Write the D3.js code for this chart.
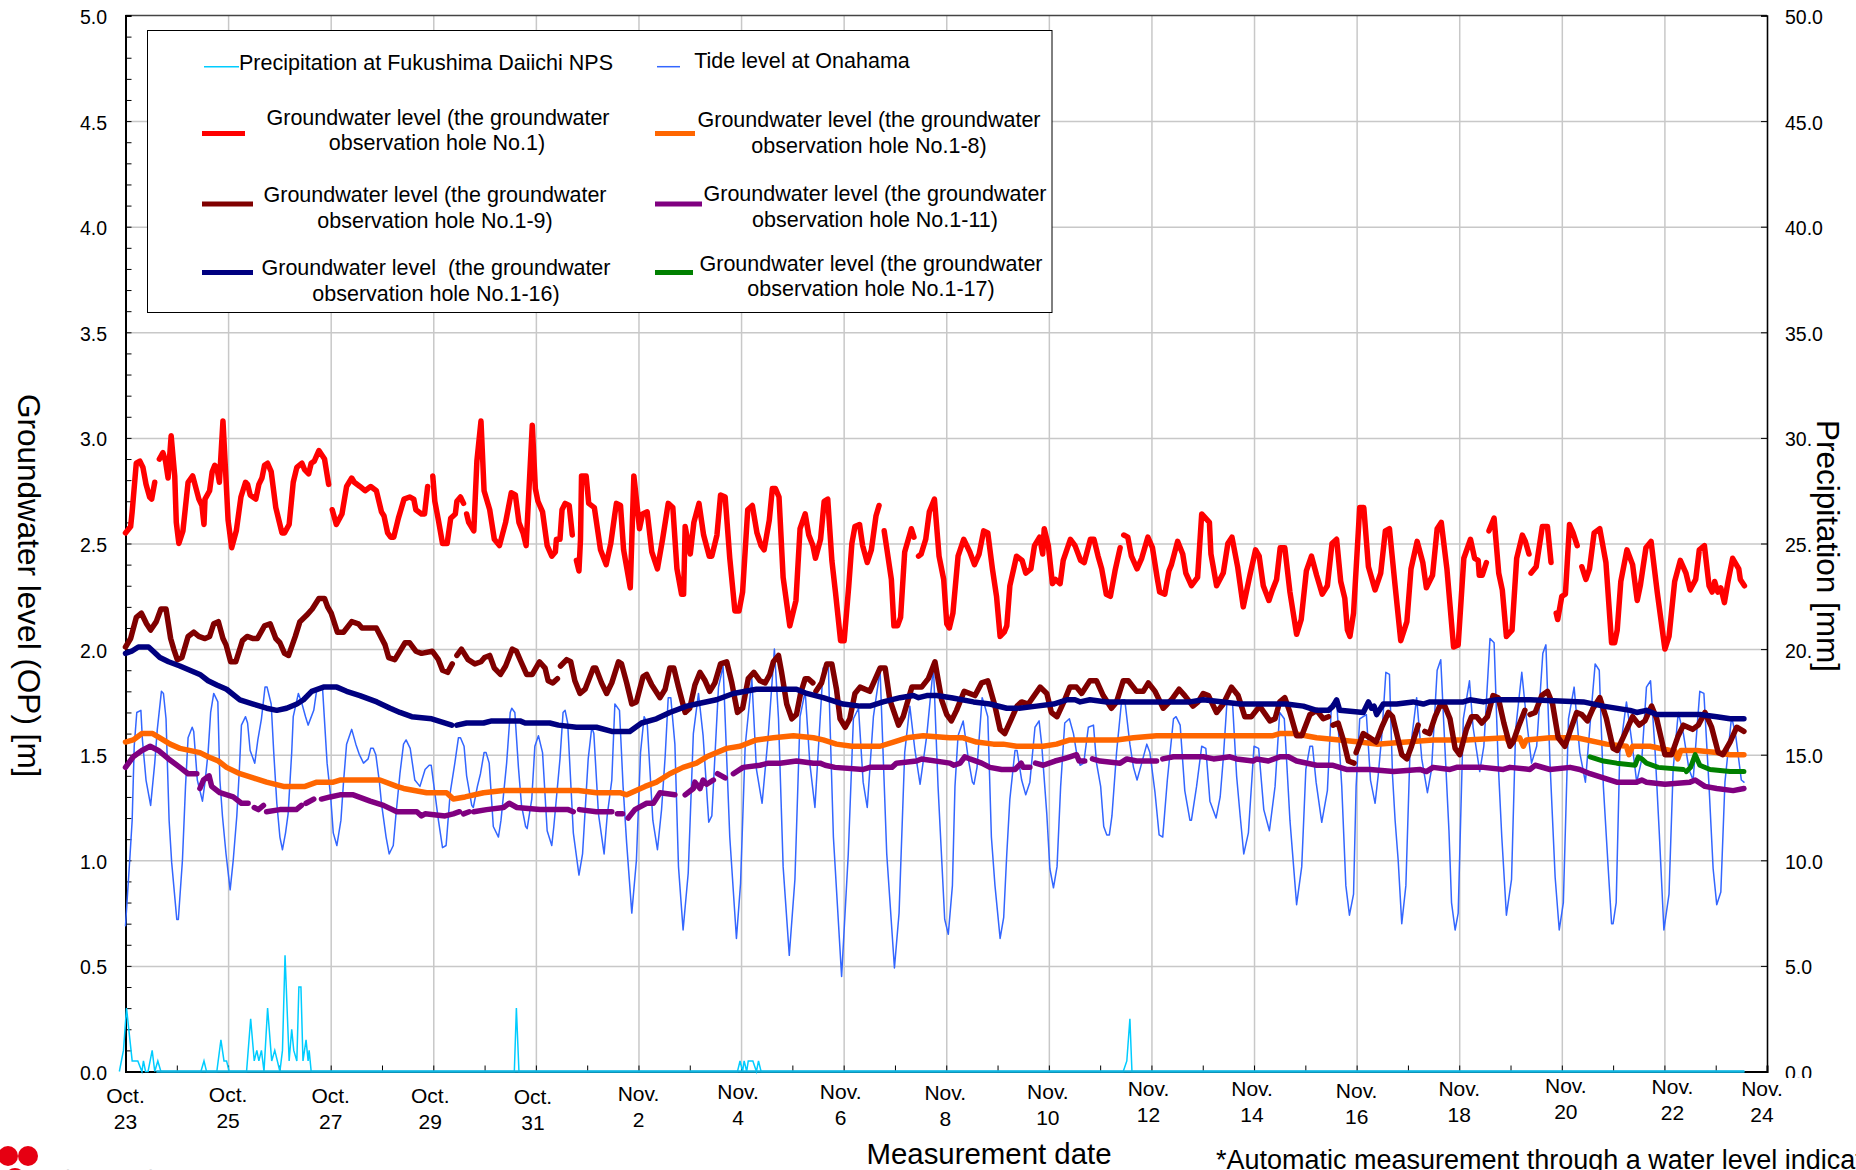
<!DOCTYPE html>
<html lang="en">
<head>
  <meta charset="UTF-8">
  <title>Groundwater level</title>
  <script src="https://d3js.org/d3.v7.min.js"></script>
  <style>
    html, body { margin: 0; padding: 0; background: #fff; overflow: hidden; }
    text { font-family: "Liberation Sans", Arial, sans-serif; fill: #000; }
  </style>
</head>
<body>
<script>
// every series is a list of [days since Oct. 23, level]; null = break in the record
const tide = [[0,.69],[.09,1.03],[.13,1.19],[.17,1.54],[.22,1.70],[.30,1.71],[.33,1.57],[.40,1.38],[.49,1.26],[.57,1.46],[.62,1.62],[.70,1.80],[.74,1.79],[.79,1.67],[.85,1.19],[.90,.99],[1,.72],[1.03,.72],[1.11,1],[1.17,1.35],[1.22,1.58],[1.30,1.63],[1.33,1.61],[1.40,1.38],[1.50,1.28],[1.55,1.37],[1.61,1.51],[1.66,1.70],[1.72,1.79],[1.80,1.75],[1.84,1.38],[1.89,1.21],[1.96,1.03],[2.04,.86],[2.10,1],[2.17,1.21],[2.22,1.43],[2.26,1.64],[2.34,1.68],[2.38,1.65],[2.43,1.52],[2.52,1.46],[2.58,1.57],[2.65,1.67],[2.72,1.82],[2.76,1.82],[2.84,1.74],[2.89,1.51],[2.95,1.27],[3.01,1.11],[3.06,1.05],[3.12,1.13],[3.17,1.22],[3.24,1.51],[3.27,1.68],[3.37,1.79],[3.43,1.75],[3.51,1.68],[3.56,1.64],[3.67,1.71],[3.73,1.81],[3.84,1.82],[3.93,1.46],[4,1.30],[4.05,1.13],[4.12,1.07],[4.20,1.19],[4.25,1.37],[4.31,1.55],[4.41,1.62],[4.49,1.55],[4.56,1.50],[4.64,1.46],[4.73,1.48],[4.78,1.53],[4.83,1.53],[4.88,1.50],[4.95,1.37],[4.99,1.27],[5.08,1.11],[5.14,1.03],[5.22,1.07],[5.27,1.21],[5.35,1.41],[5.42,1.55],[5.47,1.57],[5.55,1.53],[5.64,1.38],[5.74,1.35],[5.84,1.43],[5.92,1.45],[5.96,1.45],[6.03,1.32],[6.10,1.19],[6.18,1.06],[6.25,1.07],[6.33,1.32],[6.42,1.46],[6.49,1.58],[6.53,1.58],[6.60,1.54],[6.65,1.40],[6.75,1.26],[6.78,1.25],[6.86,1.35],[6.92,1.41],[6.99,1.51],[7.03,1.51],[7.09,1.46],[7.17,1.16],[7.27,1.11],[7.32,1.19],[7.43,1.46],[7.50,1.70],[7.53,1.72],[7.59,1.70],[7.66,1.44],[7.72,1.26],[7.80,1.16],[7.83,1.15],[7.92,1.29],[7.98,1.54],[8.05,1.59],
  [8.13,1.51],[8.22,1.14],[8.31,1.07],[8.35,1.16],[8.47,1.48],[8.53,1.70],[8.57,1.71],[8.62,1.65],[8.73,1.13],[8.84,.93],[8.91,1.03],[9.02,1.48],[9.09,1.63],[9.13,1.60],[9.22,1.22],[9.33,1.03],[9.39,1.21],[9.48,1.38],[9.54,1.74],[9.63,1.71],[9.70,1.35],[9.77,1.08],[9.87,.75],[9.96,1],[10.04,1.51],[10.11,1.68],[10.17,1.65],[10.28,1.19],[10.37,1.05],[10.45,1.24],[10.52,1.49],[10.58,1.77],[10.63,1.77],[10.71,1.55],[10.78,.97],[10.87,.67],[10.97,.94],[11.07,1.60],[11.17,1.79],[11.26,1.59],[11.37,1.18],[11.43,1.21],[11.56,1.82],[11.65,1.92],[11.78,1.11],[11.91,.63],[11.99,.89],[12.08,1.54],[12.21,1.86],[12.30,1.43],[12.41,1.27],[12.53,1.59],[12.65,2],[12.73,1.67],[12.82,.97],[12.94,.55],[13.05,.91],[13.15,1.68],[13.25,1.80],[13.34,1.46],[13.44,1.25],[13.60,1.91],[13.70,1.93],[13.80,1.11],[13.96,.45],[14.09,1.03],[14.19,1.67],[14.29,1.72],[14.38,1.37],[14.46,1.25],[14.58,1.68],[14.71,1.90],[14.84,1.03],[14.99,.49],[15.08,.75],[15.19,1.51],[15.29,1.73],[15.39,1.52],[15.49,1.36],[15.62,1.59],[15.75,1.92],[15.84,1.35],[15.97,.72],[16.04,.65],
  [16.12,.88],[16.17,1.35],[16.23,1.59],[16.33,1.66],[16.43,1.48],[16.51,1.37],[16.54,1.36],[16.60,1.44],[16.70,1.77],[16.74,1.74],[16.81,1.68],[16.88,1.11],[16.95,.88],[17.05,.63],[17.12,.73],[17.18,1.03],[17.24,1.29],[17.34,1.52],[17.38,1.52],[17.47,1.38],[17.55,1.31],[17.63,1.37],[17.73,1.63],[17.81,1.66],[17.86,1.55],[17.96,1.22],[18.02,.96],[18.09,.87],[18.16,.97],[18.23,1.35],[18.31,1.65],[18.40,1.67],[18.48,1.60],[18.54,1.51],[18.61,1.45],[18.68,1.46],[18.77,1.63],[18.87,1.64],[18.93,1.46],[19.01,1.35],[19.07,1.16],[19.13,1.12],[19.18,1.12],[19.23,1.21],[19.32,1.51],[19.42,1.76],[19.48,1.76],[19.58,1.55],[19.65,1.44],[19.72,1.38],[19.81,1.46],[19.91,1.55],[19.97,1.51],[20.07,1.32],[20.15,1.12],[20.22,1.11],[20.31,1.38],[20.43,1.67],[20.48,1.68],[20.56,1.64],[20.65,1.33],[20.75,1.19],[20.78,1.19],[20.88,1.35],[20.98,1.54],[21.06,1.53],[21.14,1.28],[21.26,1.20],[21.34,1.30],[21.40,1.48],[21.47,1.74],[21.58,1.75],[21.66,1.40],[21.73,1.21],[21.80,1.03],[21.89,1.13],[22,1.54],[22.09,1.53],[22.19,1.24],[22.30,1.14],[22.41,1.35],[22.50,1.70],[22.59,1.67],[22.70,1.19],[22.83,.79],[22.93,.97],[23.01,1.43],[23.09,1.54],[23.14,1.54],[23.21,1.37],[23.32,1.18],[23.43,1.33],[23.51,1.74],[23.61,1.76],[23.71,1.35],[23.79,.88],[23.86,.74],
  [23.94,.84],[23.99,1.35],[24.06,1.67],[24.19,1.69],[24.27,1.38],[24.36,1.27],[24.42,1.40],[24.49,1.59],[24.57,1.89],[24.64,1.88],[24.70,1.40],[24.75,1.19],[24.81,1],[24.88,.70],[24.96,.88],[25.04,1.51],[25.17,1.77],[25.27,1.48],[25.38,1.32],[25.46,1.43],[25.57,1.90],[25.64,1.95],[25.72,1.54],[25.80,1.14],[25.85,.80],[25.92,.67],[25.98,.75],[26.08,1.67],[26.20,1.85],[26.27,1.63],[26.40,1.42],[26.48,1.54],[26.60,2.05],[26.68,2.03],[26.76,1.46],[26.83,1.11],[26.92,.74],[27.02,.91],[27.10,1.62],[27.22,1.89],[27.31,1.67],[27.41,1.46],[27.51,1.54],[27.63,1.98],[27.69,2.02],[27.77,1.46],[27.87,.92],[27.95,.67],[28.03,.80],[28.13,1.67],[28.24,1.82],[28.35,1.51],[28.46,1.37],[28.56,1.67],[28.65,1.93],[28.73,1.90],[28.81,1.35],[28.91,.94],[28.97,.70],[29,.70],[29.06,.80],[29.13,1.51],[29.26,1.75],[29.36,1.57],[29.46,1.37],[29.56,1.48],[29.65,1.82],[29.73,1.85],[29.82,1.51],[29.90,1.13],[29.99,.67],[30.09,.84],[30.17,1.43],[30.27,1.70],[30.37,1.60],[30.48,1.43],[30.56,1.38],[30.69,1.80],[30.77,1.79],[30.87,1.35],[30.95,.96],[31.02,.79],[31.10,.85],[31.18,1.37],[31.31,1.68],[31.39,1.59],[31.50,1.38],[31.55,1.37]];

const hole1 = [[0,2.55],[.10,2.58],[.13,2.65],[.21,2.88],[.28,2.89],[.34,2.86],[.40,2.78],[.47,2.72],[.51,2.71],[.57,2.79],null,
  [.66,2.90],[.73,2.93],[.78,2.89],[.83,2.81],[.89,3.01],[.96,2.82],[.99,2.60],[1.04,2.50],[1.12,2.56],[1.22,2.79],[1.31,2.82],[1.43,2.71],[1.49,2.68],[1.53,2.59],[1.55,2.71],[1.64,2.75],[1.69,2.84],[1.74,2.87],[1.78,2.86],[1.83,2.79],[1.90,3.08],[1.96,2.80],[2,2.61],[2.07,2.48],[2.16,2.56],[2.25,2.72],[2.34,2.79],[2.38,2.78],[2.43,2.73],[2.54,2.71],[2.60,2.78],[2.66,2.81],[2.71,2.87],[2.77,2.88],[2.84,2.84],[2.93,2.67],[2.99,2.61],[3.05,2.55],[3.10,2.55],[3.19,2.59],[3.27,2.79],[3.34,2.86],[3.44,2.88],[3.49,2.85],[3.57,2.83],[3.62,2.88],[3.68,2.89],[3.77,2.94],[3.88,2.90],[3.96,2.78],null,
  [4.03,2.66],[4.11,2.59],[4.22,2.64],[4.31,2.77],[4.41,2.81],[4.46,2.79],[4.57,2.77],[4.67,2.75],[4.78,2.77],[4.89,2.75],[4.99,2.65],[5.04,2.63],[5.11,2.55],[5.17,2.53],[5.23,2.53],[5.32,2.62],[5.43,2.71],[5.54,2.72],[5.62,2.71],[5.66,2.66],[5.77,2.64],[5.83,2.64],[5.89,2.77],null,
  [5.99,2.82],[6.03,2.70],[6.10,2.61],[6.18,2.50],[6.27,2.50],[6.34,2.62],[6.43,2.64],[6.46,2.70],[6.53,2.72],[6.59,2.69],null,
  [6.65,2.64],[6.69,2.60],[6.79,2.56],[6.85,2.89],[6.93,3.08],[6.99,2.75],[7.10,2.66],[7.19,2.52],[7.29,2.49],[7.41,2.60],[7.52,2.74],[7.60,2.73],[7.67,2.60],[7.75,2.55],[7.81,2.49],[7.93,3.06],[7.99,2.76],[8.04,2.70],[8.13,2.65],[8.22,2.49],[8.31,2.44],[8.38,2.46],[8.40,2.52],[8.47,2.52],[8.51,2.66],[8.57,2.69],[8.65,2.68],[8.71,2.54],null,
  [8.79,2.42],[8.84,2.37],[8.87,2.52],[8.89,2.82],[8.98,2.82],[9.03,2.69],[9.14,2.67],[9.20,2.57],[9.26,2.47],[9.37,2.40],[9.46,2.50],[9.54,2.64],[9.57,2.69],[9.65,2.68],[9.71,2.47],[9.84,2.29],[9.91,2.82],[9.99,2.64],[10.02,2.57],[10.08,2.64],[10.17,2.65],[10.26,2.46],[10.37,2.38],[10.47,2.52],[10.58,2.69],[10.67,2.67],[10.75,2.38],[10.84,2.26],[10.88,2.26],[10.91,2.58],[11.01,2.45],[11.08,2.60],[11.18,2.69],
  [11.27,2.54],[11.38,2.44],[11.43,2.44],[11.53,2.54],[11.60,2.73],[11.69,2.72],[11.78,2.43],[11.88,2.18],[11.96,2.18],[12.03,2.27],[12.13,2.66],[12.22,2.68],[12.31,2.55],[12.39,2.49],[12.45,2.47],[12.55,2.61],[12.61,2.76],[12.67,2.76],[12.74,2.72],[12.82,2.34],[12.95,2.11],[13.07,2.23],[13.15,2.57],[13.25,2.64],[13.32,2.54],[13.40,2.49],[13.45,2.43],[13.55,2.52],[13.62,2.70],[13.69,2.71],[13.77,2.42],[13.84,2.27],[13.94,2.04],[14.01,2.04],[14.10,2.30],[14.16,2.50],[14.22,2.58],[14.31,2.59],[14.37,2.49],[14.46,2.41],[14.54,2.47],[14.63,2.63],[14.69,2.68],null,
  [14.79,2.56],[14.93,2.33],[14.98,2.11],[15.05,2.11],[15.11,2.15],[15.19,2.46],[15.32,2.57],[15.37,2.53],null,
  [15.46,2.44],[15.51,2.45],[15.60,2.52],[15.67,2.65],[15.77,2.71],[15.86,2.44],[15.95,2.33],[16.01,2.12],[16.06,2.10],[16.13,2.17],[16.23,2.44],[16.34,2.52],[16.46,2.46],[16.55,2.40],[16.64,2.45],[16.73,2.56],[16.81,2.55],[16.90,2.38],[16.98,2.25],[17.05,2.06],[17.13,2.08],[17.18,2.11],[17.24,2.30],[17.37,2.44],[17.48,2.42],[17.55,2.36],[17.65,2.38],[17.72,2.49],[17.82,2.53],[17.88,2.45],[17.91,2.57],[17.99,2.49],[18.07,2.31],[18.13,2.33],[18.22,2.31],[18.28,2.42],[18.42,2.52],[18.51,2.49],[18.62,2.42],[18.69,2.41],[18.81,2.52],[18.88,2.52],[18.96,2.44],[19.03,2.38],[19.12,2.26],[19.20,2.25],[19.29,2.37],[19.39,2.48],null,
  [19.46,2.54],[19.54,2.53],[19.61,2.44],[19.72,2.38],[19.81,2.43],[19.93,2.53],[20.02,2.48],[20.11,2.34],[20.16,2.27],[20.26,2.26],[20.34,2.37],[20.39,2.40],[20.51,2.51],[20.61,2.45],[20.67,2.36],[20.78,2.30],[20.90,2.34],[20.98,2.64],[21.13,2.60],[21.16,2.45],[21.27,2.30],[21.40,2.36],[21.49,2.50],[21.57,2.53],[21.68,2.39],[21.79,2.20],
  [21.92,2.35],[22.03,2.47],[22.10,2.44],[22.18,2.30],[22.29,2.23],[22.36,2.28],[22.44,2.33],[22.51,2.48],[22.60,2.48],[22.70,2.27],[22.83,2.07],[22.92,2.14],[23.02,2.37],[23.12,2.44],[23.22,2.35],[23.33,2.26],[23.43,2.30],[23.52,2.50],[23.61,2.52],[23.69,2.32],[23.77,2.24],[23.82,2.09],[23.87,2.06],[23.94,2.17],[24.06,2.67],[24.14,2.67],[24.23,2.39],[24.36,2.28],[24.47,2.36],[24.56,2.56],[24.64,2.57],[24.75,2.30],[24.86,2.04],[24.98,2.13],[25.06,2.38],[25.18,2.51],[25.29,2.41],[25.36,2.29],[25.48,2.35],[25.57,2.57],[25.65,2.60],[25.76,2.38],[25.89,2.01],[25.98,2.02],[26.09,2.43],[26.22,2.52],[26.30,2.43],[26.37,2.42],[26.39,2.35],[26.45,2.35],[26.53,2.41],null,
  [26.58,2.56],[26.68,2.62],[26.77,2.36],[26.84,2.28],[26.92,2.06],[27.03,2.09],[27.12,2.43],[27.23,2.54],[27.29,2.51],[27.36,2.45],null,
  [27.40,2.36],[27.50,2.39],[27.62,2.58],[27.72,2.58],[27.79,2.41],null,
  [27.89,2.17],[27.92,2.14],[28,2.25],[28.07,2.26],[28.15,2.59],[28.22,2.55],[28.30,2.49],null,
  [28.39,2.39],[28.47,2.33],[28.54,2.38],[28.63,2.55],[28.74,2.57],[28.86,2.41],[28.97,2.03],[29.03,2.03],[29.08,2.09],[29.15,2.32],[29.27,2.47],[29.38,2.40],[29.47,2.23],[29.53,2.30],[29.64,2.48],[29.74,2.51],[29.86,2.27],[30.01,2],[30.09,2.06],[30.20,2.32],[30.31,2.42],[30.42,2.36],[30.50,2.28],[30.61,2.33],[30.68,2.47],[30.78,2.49],[30.87,2.30],[30.93,2.27],[30.98,2.32],[31.04,2.27],[31.10,2.29],[31.17,2.22],[31.24,2.32],[31.33,2.43],[31.45,2.38],[31.48,2.33],[31.56,2.30]];

const hole1_9 = [[0,2.01],[.10,2.05],[.21,2.15],[.31,2.17],[.41,2.12],[.49,2.09],[.60,2.13],[.69,2.19],[.79,2.19],[.88,2.05],[.94,2],[1.01,1.95],[1.10,1.96],[1.22,2.06],[1.33,2.08],[1.43,2.06],[1.55,2.05],[1.64,2.06],[1.72,2.12],[1.81,2.13],[1.90,2.05],[1.96,2.02],[2.05,1.94],[2.15,1.94],[2.28,2.04],[2.37,2.06],[2.49,2.05],[2.57,2.05],[2.71,2.11],[2.82,2.12],[2.93,2.05],[3.01,2.03],[3.10,1.98],[3.18,1.97],[3.31,2.06],[3.40,2.13],[3.53,2.16],[3.64,2.19],[3.77,2.24],[3.88,2.24],[3.94,2.20],[4.01,2.17],[4.13,2.08],[4.25,2.08],[4.41,2.13],[4.54,2.12],[4.61,2.10],[4.89,2.10],[5.06,2.02],[5.13,1.96],[5.25,1.95],[5.45,2.03],[5.54,2.03],[5.66,1.99],[5.77,1.98],[5.98,1.99],[6.10,1.95],[6.18,1.90],[6.28,1.89],[6.37,1.93],null,
  [6.46,1.97],[6.55,2],[6.68,1.95],[6.81,1.93],[6.93,1.94],[7,1.96],[7.10,1.97],[7.19,1.91],[7.31,1.88],[7.41,1.92],[7.54,2],[7.62,1.99],[7.71,1.94],[7.82,1.88],[7.93,1.88],[8.07,1.94],[8.18,1.91],[8.24,1.85],[8.33,1.84],[8.42,1.86],null,
  [8.48,1.92],[8.60,1.95],[8.68,1.94],[8.76,1.85],[8.86,1.79],[8.96,1.81],[9.12,1.91],[9.17,1.91],[9.28,1.84],[9.38,1.79],[9.48,1.84],[9.61,1.94],[9.67,1.93],[9.77,1.84],[9.87,1.74],[9.96,1.75],[10.09,1.87],[10.16,1.88],[10.26,1.83],[10.42,1.77],[10.52,1.81],[10.61,1.91],[10.69,1.91],[10.78,1.82],[10.91,1.70],[11,1.72],[11.10,1.83],[11.20,1.89],[11.30,1.85],[11.39,1.80],[11.49,1.84],[11.60,1.93],[11.72,1.94],[11.82,1.84],[11.93,1.70],[12.03,1.72],[12.14,1.86],[12.25,1.89],[12.37,1.85],[12.47,1.84],[12.56,1.88],[12.63,1.94],[12.73,1.97],[12.79,1.89],[12.89,1.74],[12.99,1.67],[13.08,1.69],[13.16,1.79],[13.25,1.86],[13.31,1.86],[13.40,1.84],null,
  [13.46,1.80],[13.57,1.84],[13.67,1.93],[13.77,1.93],[13.86,1.81],[13.93,1.67],[14.03,1.63],[14.12,1.67],[14.22,1.79],[14.32,1.82],[14.51,1.80],[14.71,1.91],[14.81,1.91],[14.90,1.76],[15.07,1.64],[15.16,1.68],[15.33,1.82],[15.52,1.82],[15.65,1.86],[15.78,1.94],[15.91,1.76],[16.01,1.69],[16.10,1.66],[16.20,1.71],[16.35,1.80],[16.56,1.78],[16.69,1.84],[16.81,1.85],[16.95,1.73],[17.05,1.62],[17.14,1.60],[17.27,1.67],[17.38,1.73],[17.47,1.75],[17.60,1.74],[17.83,1.82],[17.96,1.79],[18.05,1.70],[18.16,1.68],[18.31,1.76],[18.41,1.82],[18.54,1.82],[18.64,1.79],[18.80,1.85],[18.93,1.85],[19.06,1.78],[19.22,1.72],[19.32,1.75],[19.45,1.85],[19.55,1.85],[19.71,1.80],[19.84,1.80],[19.94,1.84],[20.07,1.80],[20.23,1.72],[20.39,1.76],[20.54,1.81],[20.65,1.78],[20.81,1.73],[20.91,1.75],[21.01,1.79],[21.11,1.78],[21.27,1.70],[21.40,1.74],[21.56,1.82],[21.69,1.78],[21.82,1.68],[21.95,1.68],[22.11,1.73],[22.31,1.66],[22.41,1.67],[22.50,1.75],[22.60,1.77],[22.70,1.70],[22.83,1.59],[22.93,1.59],[23.09,1.69],[23.22,1.71],[23.35,1.67],[23.45,1.68],null,
  [23.54,1.64],[23.64,1.65],[23.74,1.57],[23.84,1.47],[23.95,1.46],null,
  [23.99,1.51],[24.13,1.60],[24.26,1.58],[24.38,1.56],[24.49,1.63],[24.62,1.70],[24.70,1.68],[24.78,1.60],[24.88,1.50],[24.98,1.48],[25.07,1.54],[25.20,1.64],null,
  [25.33,1.61],[25.42,1.60],[25.53,1.68],[25.62,1.73],[25.72,1.73],[25.82,1.67],[25.92,1.53],[26.01,1.50],[26.14,1.62],[26.24,1.68],[26.34,1.68],[26.44,1.65],[26.55,1.68],[26.66,1.78],[26.76,1.77],[26.87,1.65],[26.99,1.54],[27.05,1.56],[27.15,1.63],[27.28,1.71],null,
  [27.38,1.69],[27.48,1.70],[27.61,1.78],[27.72,1.80],[27.82,1.74],[27.93,1.58],[28.06,1.54],[28.16,1.61],[28.29,1.70],[28.39,1.69],[28.50,1.66],[28.61,1.72],[28.74,1.77],[28.87,1.67],[29,1.53],[29.08,1.52],[29.23,1.60],[29.38,1.68],[29.51,1.64],[29.62,1.66],[29.75,1.73],[29.85,1.67],[30.01,1.50],[30.14,1.50],[30.27,1.59],[30.37,1.64],[30.55,1.62],[30.66,1.64],[30.79,1.70],[30.92,1.63],[31.05,1.51],[31.14,1.50],[31.28,1.56],[31.41,1.63],[31.55,1.61]];

const hole1_8 = [[0,1.56],[.15,1.57],[.32,1.60],[.53,1.60],[.67,1.58],[.87,1.55],[1.06,1.53],[1.45,1.51],[1.61,1.49],[1.81,1.47],[1.97,1.44],[2.23,1.41],[2.49,1.39],[2.75,1.37],[3.08,1.35],[3.50,1.35],[3.73,1.37],[4.05,1.37],[4.18,1.38],[4.96,1.38],[5.29,1.35],[5.42,1.34],[5.87,1.32],[6.26,1.32],[6.39,1.29],[6.62,1.30],[6.98,1.32],[7.37,1.33],[7.75,1.33],[8.08,1.33],[8.73,1.33],[8.83,1.33],[9.18,1.32],[9.64,1.32],[9.77,1.31],[10.13,1.35],[10.35,1.37],[10.61,1.41],[10.87,1.44],[11.13,1.46],[11.33,1.49],[11.72,1.53],[11.98,1.54],[12.30,1.57],[12.63,1.58],[13.02,1.59],[13.41,1.58],[13.60,1.57],[13.86,1.55],[14.16,1.54],[14.71,1.54],[14.97,1.56],[15.23,1.58],[15.55,1.59],[16.07,1.58],[16.33,1.58],[16.59,1.56],[16.92,1.55],[17.11,1.55],[17.37,1.54],[17.60,1.54],[17.89,1.54],[18.15,1.55],[18.41,1.57],[19.32,1.57],[19.65,1.58],[20.10,1.59],[21.40,1.59],[22.37,1.59],[22.50,1.60],[22.77,1.60],[23.22,1.58],[23.67,1.57],[24.06,1.56],[24.39,1.55],[24.97,1.56],[25.49,1.57],[26.14,1.57],[26.92,1.58],[26.99,1.55],[27.05,1.57],[27.18,1.58],[27.25,1.54],[27.31,1.57],[27.77,1.58],[28.29,1.58],[28.87,1.55],[29.26,1.54],[29.31,1.50],[29.38,1.54],[29.72,1.54],[30.11,1.52],[30.20,1.52],[30.26,1.48],[30.32,1.52],[30.63,1.52],[31.02,1.51],[31.28,1.50],[31.55,1.50]];

const hole1_11 = [[0,1.44],[.15,1.49],[.32,1.52],[.48,1.54],[.64,1.52],[.84,1.48],[1.06,1.44],[1.22,1.41],[1.39,1.41],null,
  [1.45,1.34],[1.52,1.38],[1.63,1.40],[1.68,1.35],[1.84,1.32],[2.10,1.30],[2.26,1.27],[2.39,1.27],null,
  [2.51,1.25],[2.59,1.24],[2.69,1.26],null,
  [2.75,1.23],[3.01,1.24],[3.33,1.24],[3.43,1.26],null,
  [3.52,1.27],[3.67,1.29],null,
  [3.82,1.29],[3.99,1.30],[4.18,1.31],[4.44,1.31],[4.77,1.28],[5.03,1.26],[5.29,1.23],[5.68,1.23],[5.77,1.21],[5.84,1.22],[6.23,1.21],[6.39,1.22],[6.51,1.23],null,
  [6.59,1.22],[6.70,1.23],null,
  [6.79,1.23],[7.04,1.24],[7.37,1.25],[7.48,1.27],[7.63,1.25],[8.08,1.24],[8.47,1.24],[8.63,1.24],[8.73,1.23],null,
  [8.85,1.24],[9.18,1.23],[9.48,1.23],null,
  [9.59,1.22],[9.69,1.22],null,
  [9.80,1.20],[9.93,1.24],[10.16,1.27],[10.29,1.27],[10.42,1.32],[10.71,1.31],null,
  [10.91,1.31],[11.07,1.34],[11.10,1.37],[11.20,1.34],[11.26,1.38],[11.33,1.36],[11.46,1.38],null,
  [11.54,1.41],[11.69,1.39],null,
  [11.85,1.41],[12.04,1.44],[12.37,1.45],[12.53,1.46],[12.76,1.46],[13.08,1.47],[13.41,1.46],[13.54,1.46],[13.64,1.45],[13.83,1.44],[14.38,1.43],[14.51,1.44],[14.94,1.44],[15.03,1.46],[15.42,1.47],[15.52,1.48],[16.07,1.46],[16.15,1.45],[16.27,1.46],[16.36,1.49],[16.46,1.48],[16.69,1.46],[16.85,1.44],[17.08,1.43],[17.34,1.43],[17.46,1.46],[17.50,1.44],[17.63,1.44],null,
  [17.74,1.46],[17.89,1.45],[18.12,1.47],[18.28,1.48],[18.41,1.49],[18.54,1.50],[18.59,1.47],[18.70,1.47],null,
  [18.85,1.48],[19,1.47],[19.39,1.46],[19.52,1.48],[19.71,1.47],[20.10,1.47],null,
  [20.22,1.48],[20.43,1.49],[20.75,1.49],[21.01,1.49],[21.21,1.48],[21.53,1.49],[21.66,1.48],[21.98,1.47],[22.05,1.48],[22.28,1.47],[22.50,1.49],[22.67,1.49],[22.83,1.47],[23.22,1.45],[23.54,1.45],[23.80,1.43],[24.26,1.43],[24.72,1.42],[25.23,1.43],[25.36,1.42],[25.49,1.44],[25.82,1.43],[25.95,1.44],[26.47,1.44],[26.86,1.43],[26.99,1.44],[27.38,1.43],[27.48,1.45],[27.77,1.43],[28.16,1.44],[28.35,1.43],[28.55,1.41],[28.81,1.39],[29.07,1.37],[29.46,1.37],[29.56,1.38],[29.65,1.37],[30.01,1.36],[30.50,1.37],[30.60,1.38],[30.79,1.35],[31.02,1.34],[31.34,1.33],[31.55,1.34]];

const hole1_16 = [[0,1.98],[.12,1.99],[.25,2.01],[.45,2.01],[.54,1.99],[.67,1.96],[.84,1.94],[1.06,1.92],[1.45,1.88],[1.61,1.85],[1.78,1.83],[1.97,1.81],[2.23,1.76],[2.49,1.74],[2.75,1.72],[2.95,1.71],[3.14,1.72],[3.34,1.74],[3.47,1.76],[3.63,1.80],[3.86,1.82],[4.12,1.82],[4.31,1.80],[4.57,1.78],[4.90,1.75],[5.16,1.72],[5.35,1.70],[5.58,1.68],[5.97,1.67],[6.36,1.64],null,
  [6.46,1.64],[6.65,1.65],[6.98,1.65],[7.14,1.66],[7.69,1.66],[7.79,1.65],[8.27,1.65],[8.44,1.64],[8.79,1.63],[9.18,1.63],[9.48,1.61],[9.83,1.61],[10.06,1.65],[10.35,1.67],[10.61,1.70],[10.94,1.73],[11.13,1.74],[11.52,1.76],[11.85,1.79],[12.30,1.81],[13.08,1.81],[13.28,1.79],[13.60,1.77],[13.99,1.74],[14.32,1.73],[14.51,1.73],[14.77,1.75],[15.10,1.77],[15.36,1.78],[15.46,1.77],[15.62,1.78],[15.81,1.78],[16.10,1.77],[16.53,1.75],[16.85,1.74],[17.18,1.72],[17.37,1.72],null,
  [17.42,1.72],[17.76,1.73],[18.09,1.74],[18.35,1.76],[18.51,1.76],[18.61,1.75],[18.80,1.76],[19.13,1.75],[20.30,1.75],[20.75,1.75],[21.01,1.76],[21.40,1.75],[21.73,1.74],[22.37,1.74],[22.63,1.74],[22.96,1.73],[23.22,1.71],[23.45,1.71],[23.54,1.73],[23.61,1.76],[23.67,1.71],[24.13,1.70],[24.23,1.75],[24.29,1.72],[24.34,1.73],[24.39,1.69],[24.52,1.74],[24.78,1.74],[25.10,1.75],[25.30,1.74],[25.43,1.75],[26.08,1.75],[26.21,1.76],[26.47,1.75],[26.73,1.76],[27.38,1.76],[28.42,1.75],[28.81,1.73],[29.33,1.71],[29.46,1.70],[29.65,1.71],[29.85,1.69],[30.56,1.69],[30.69,1.69],[31.02,1.68],[31.28,1.67],[31.55,1.67]];

const hole1_17 = [[28.55,1.49],[28.81,1.47],[29.07,1.46],[29.43,1.45],[29.49,1.49],[29.56,1.48],[29.65,1.46],[29.88,1.44],[30.37,1.43],null,
  [30.43,1.42],[30.51,1.44],[30.60,1.50],[30.69,1.45],[30.89,1.43],[31.28,1.42],[31.55,1.42]];

// precipitation in mm, read against the right axis
const precipitation = [[-.12,0],[-.04,1],[.02,3],[.13,.5],[.24,.5],[.32,0],[.35,.5],[.39,0],[.44,0],[.52,1],[.57,0],[.63,.5],[.69,0],[1.47,0],[1.53,.5],[1.58,0],[1.78,0],[1.86,1.5],[1.92,.5],[1.97,.5],[2.02,0],[2.36,0],[2.44,2.5],[2.51,.5],[2.56,1],[2.60,.5],[2.65,1],[2.70,0],[2.77,3],[2.85,.5],[2.91,1],[3.01,0],[3.06,1],[3.11,5.5],[3.19,.5],[3.24,2],[3.28,1],[3.34,.5],[3.38,4],[3.42,4],[3.46,.5],[3.52,1.5],[3.56,.5],[3.58,1],[3.62,0],[7.58,0],[7.62,3],[7.67,0],[11.93,0],[11.98,.5],[12.03,0],[12.06,.5],[12.11,0],[12.14,.5],[12.23,.5],[12.30,0],[12.34,.5],[12.39,0],[19.45,0],[19.52,.5],[19.58,2.5],[19.62,0],[31.56,0]];

const majorDays = d3.range(0, 33, 2);
const dateLabels = [['Oct.','23'],['Oct.','25'],['Oct.','27'],['Oct.','29'],['Oct.','31'],['Nov.','2'],['Nov.','4'],['Nov.','6'],['Nov.','8'],['Nov.','10'],['Nov.','12'],['Nov.','14'],['Nov.','16'],['Nov.','18'],['Nov.','20'],['Nov.','22'],['Nov.','24']];
// the labels sit a little uneven in the original
const labelDx = [0,0,0,-3,-3,0,-3,-3,-1,-1,-3,-2,0,0,4,8,-5];
const labelDy = [0,-1,0,0,1,-2,-4,-4,-3,-4,-7,-7,-5,-7,-10,-9,-7];

const chartW = 1856, chartH = 1170;
const plotL = 125.5, plotR = 1767, plotT = 15.5, plotB = 1071.5;

const x = d3.scaleLinear().domain([0, 32]).range([plotL, plotR]);
const y = d3.scaleLinear().domain([0, 5]).range([plotB, plotT]);
const yRain = d3.scaleLinear().domain([0, 50]).range([plotB, plotT]);

const svg = d3.select('body').append('svg')
  .attr('width', chartW).attr('height', chartH)
  .style('display', 'block');

// grid
svg.append('g').call(d3.axisBottom(x).tickValues(majorDays).tickSize(plotT - plotB).tickFormat(''))
  .attr('transform', `translate(0,${plotB})`)
  .call(g => g.select('.domain').remove())
  .call(g => g.selectAll('line').attr('stroke', '#c8c8c8').attr('stroke-width', 1.5));
svg.append('g').call(d3.axisLeft(y).tickValues(d3.range(0.5, 5, 0.5)).tickSize(plotL - plotR).tickFormat(''))
  .attr('transform', `translate(${plotL},0)`)
  .call(g => g.select('.domain').remove())
  .call(g => g.selectAll('line').attr('stroke', '#c8c8c8').attr('stroke-width', 1.5));

// series
const line = d3.line().defined(d => d).x(d => x(d[0])).y(d => y(d[1]));
const rainLine = d3.line().x(d => x(d[0])).y(d => yRain(d[1]));

function drawLevel(data, color, w) {
  svg.append('path').datum(data)
    .attr('fill', 'none').attr('stroke', color).attr('stroke-width', w)
    .attr('stroke-linejoin', 'round').attr('stroke-linecap', 'round')
    .attr('d', line);
}

// axes under the thick lines
svg.append('line').attr('x1', plotL).attr('x2', plotR).attr('y1', plotT).attr('y2', plotT)
  .attr('stroke', '#444').attr('stroke-width', 1.5);
svg.append('g').call(d3.axisLeft(y).ticks(50).tickSize(-6).tickFormat(''))
  .attr('transform', `translate(${plotL},0)`)
  .call(g => g.select('.domain').attr('stroke', '#000').attr('stroke-width', 2))
  .call(g => g.selectAll('line').attr('stroke', '#000'));
svg.append('g').call(d3.axisRight(yRain).tickValues(d3.range(0, 51, 5)).tickSize(-6).tickFormat(''))
  .attr('transform', `translate(${plotR},0)`)
  .call(g => g.select('.domain').attr('stroke', '#000').attr('stroke-width', 1.5))
  .call(g => g.selectAll('line').attr('stroke', '#000'));
svg.append('g').call(d3.axisBottom(x).tickValues(d3.range(0, 33)).tickSize(-6).tickFormat(''))
  .attr('transform', `translate(0,${plotB})`)
  .call(g => g.select('.domain').attr('stroke', '#000').attr('stroke-width', 2))
  .call(g => g.selectAll('line').attr('stroke', '#000'));

drawLevel(tide, '#3366ff', 1.5);
svg.append('path').datum(precipitation)
  .attr('fill', 'none').attr('stroke', '#00ccff').attr('stroke-width', 1.5)
  .attr('d', rainLine);
svg.append('line').attr('x1', x(0.6)).attr('x2', x(31.56)).attr('y1', plotB).attr('y2', plotB)
  .attr('stroke', '#10b4e0').attr('stroke-width', 2.5);
drawLevel(hole1, '#ff0000', 5.5);
drawLevel(hole1_8, '#ff6600', 5.5);
drawLevel(hole1_11, '#800080', 5.5);
drawLevel(hole1_17, '#008000', 5);
drawLevel(hole1_9, '#800000', 5.5);
drawLevel(hole1_16, '#000080', 5.5);

// tick labels
svg.append('g').selectAll('text').data(d3.range(0, 5.01, 0.5)).join('text')
  .attr('x', 107).attr('y', d => y(d) + 8.5)
  .attr('text-anchor', 'end').attr('font-size', 19.5)
  .text(d => d.toFixed(1));

svg.append('defs').append('clipPath').attr('id', 'rightCut')
  .append('rect').attr('x', 1770).attr('y', 0).attr('width', 86).attr('height', 1078);
svg.append('g').attr('clip-path', 'url(#rightCut)')
  .selectAll('text').data(d3.range(0, 50.1, 5)).join('text')
  .attr('x', 1785).attr('y', d => yRain(d) + 8.5)
  .attr('font-size', 19.5)
  .text(d => d.toFixed(1));

const dates = svg.append('g').selectAll('g').data(majorDays).join('g')
  .attr('transform', (d, i) => `translate(${x(d) + labelDx[i]},${1103 + labelDy[i]})`)
  .attr('text-anchor', 'middle').attr('font-size', 21);
dates.append('text').text((d, i) => dateLabels[i][0]);
dates.append('text').attr('y', 26).text((d, i) => dateLabels[i][1]);

// axis titles, the right one hides the last digit of three labels
svg.append('rect').attr('x', 1812).attr('y', 414).attr('width', 44).attr('height', 266).attr('fill', '#fff');
svg.append('text').attr('transform', 'translate(1817,420) rotate(90)')
  .attr('font-size', 31.5).text('Precipitation [mm]');
svg.append('text').attr('transform', 'translate(18,394) rotate(90)')
  .attr('font-size', 31.5).text('Groundwater level (OP) [m]');
svg.append('text').attr('x', 989).attr('y', 1164).attr('text-anchor', 'middle')
  .attr('font-size', 29.4).text('Measurement date');
svg.append('text').attr('x', 1216).attr('y', 1169)
  .attr('font-size', 27).text('*Automatic measurement through a water level indicator');

// legend
const legendItems = [
  {color: '#00ccff', w: 1.5, x1: 204, x2: 239, y: 66.7, text: [['Precipitation at Fukushima Daiichi NPS', 426, 70]]},
  {color: '#3366ff', w: 1.5, x1: 657, x2: 680, y: 66.7, text: [['Tide level at Onahama', 802, 68]]},
  {color: '#ff0000', w: 5, x1: 202, x2: 245, y: 133.5, text: [['Groundwater level (the groundwater', 438, 125], ['observation hole No.1)', 437, 150]]},
  {color: '#ff6600', w: 5, x1: 655, x2: 695, y: 133.5, text: [['Groundwater level (the groundwater', 869, 127], ['observation hole No.1-8)', 869, 153]]},
  {color: '#800000', w: 5, x1: 202, x2: 253, y: 204, text: [['Groundwater level (the groundwater', 435, 202], ['observation hole No.1-9)', 435, 228]]},
  {color: '#800080', w: 5, x1: 655, x2: 702, y: 204, text: [['Groundwater level (the groundwater', 875, 201], ['observation hole No.1-11)', 875, 227]]},
  {color: '#000080', w: 5, x1: 202, x2: 253, y: 272.5, text: [['Groundwater level  (the groundwater', 436, 275], ['observation hole No.1-16)', 436, 301]]},
  {color: '#008000', w: 5, x1: 655, x2: 693, y: 272.5, text: [['Groundwater level (the groundwater', 871, 271], ['observation hole No.1-17)', 871, 296]]}
];

const legend = svg.append('g');
legend.append('rect').attr('x', 147.5).attr('y', 30.5).attr('width', 904.5).attr('height', 282)
  .attr('fill', '#fff').attr('stroke', '#000').attr('stroke-width', 1);
legend.selectAll('line').data(legendItems).join('line')
  .attr('x1', d => d.x1).attr('x2', d => d.x2).attr('y1', d => d.y).attr('y2', d => d.y)
  .attr('stroke', d => d.color).attr('stroke-width', d => d.w);
legend.selectAll('text').data(legendItems.flatMap(d => d.text)).join('text')
  .attr('x', d => d[1]).attr('y', d => d[2]).attr('text-anchor', 'middle')
  .attr('xml:space', 'preserve').style('white-space', 'pre')
  .attr('font-size', 21.5).text(d => d[0]);

// logo corner, cut by the page edge
const logo = svg.append('g').attr('fill', '#e60012');
logo.append('circle').attr('cx', 8).attr('cy', 1156).attr('r', 10);
logo.append('circle').attr('cx', 28).attr('cy', 1156).attr('r', 10);
logo.append('circle').attr('cx', 15).attr('cy', 1178).attr('r', 10);
svg.append('text').attr('x', 55).attr('y', 1192)
  .style('font-family', '"Noto Sans CJK JP"').style('fill', '#888')
  .attr('letter-spacing', 2)
  .attr('font-size', 26).text('東京電力');
</script>
</body>
</html>
